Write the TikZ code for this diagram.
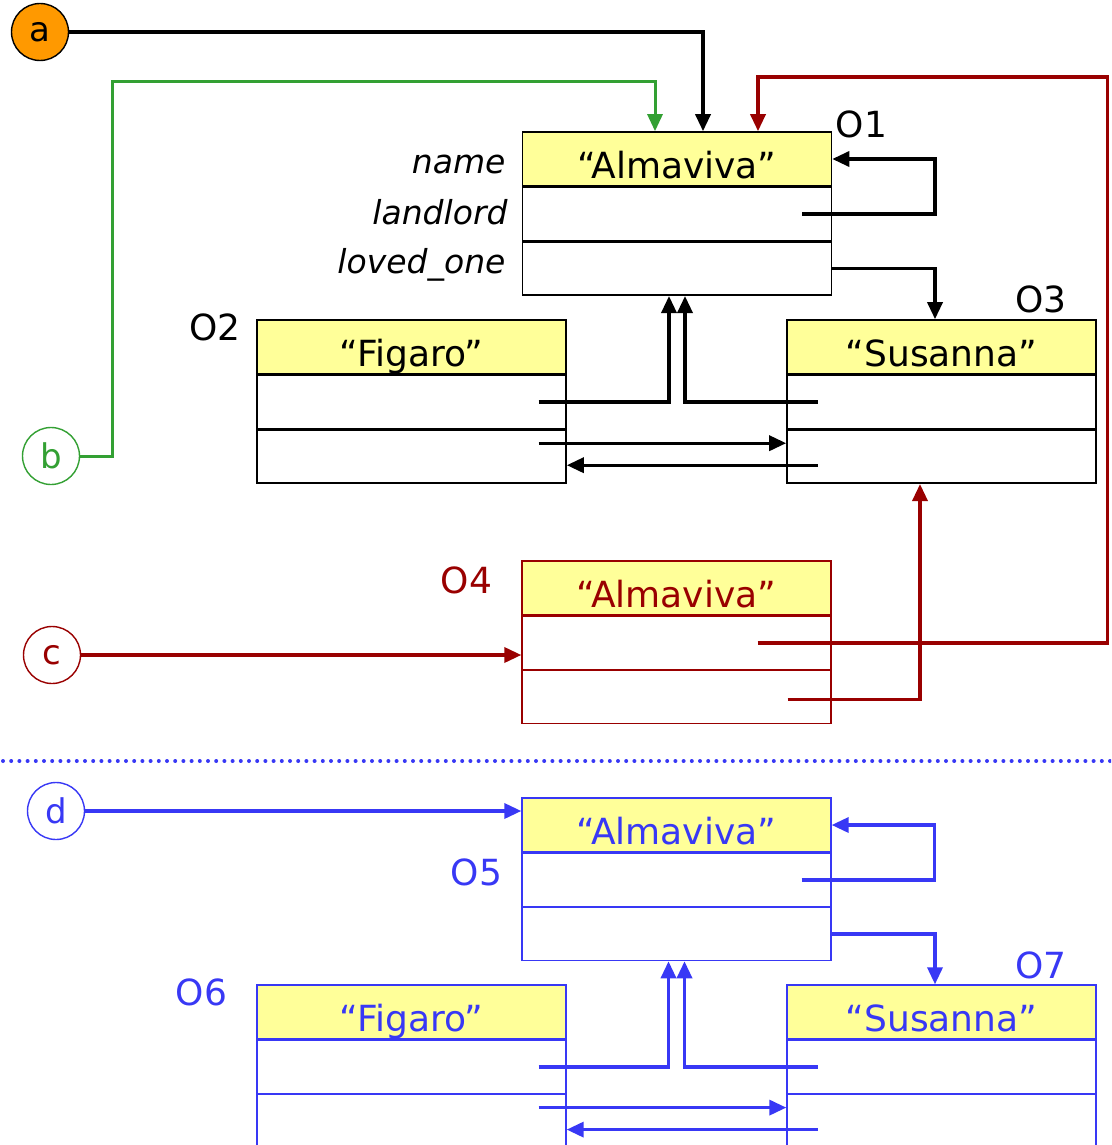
\documentclass[tikz,border=0pt]{standalone}
\usepackage{fontspec}
\setmainfont{DejaVu Sans}
\usetikzlibrary{arrows.meta,positioning,calc}
\definecolor{objyellow}{HTML}{FFFF99}
\definecolor{objred}{HTML}{990000}
\definecolor{objblue}{HTML}{3838F5}
\definecolor{objgreen}{HTML}{33A033}
\definecolor{objorange}{HTML}{FF9900}

\begin{document}
\begin{tikzpicture}[x=1pt,y=-1pt]
                    \tikzstyle{every node}+=[inner sep=0pt]
                    \tikzstyle{hdr}=[draw,line width=1.6pt,fill=objyellow,minimum width=309pt,minimum height=54pt,text height=38pt,text depth=0pt,font=\fontsize{36}{42}\selectfont]
                    \tikzstyle{cell}=[draw,line width=1.6pt,minimum width=309pt,minimum height=53pt]
                    \tikzstyle{var}=[circle,draw,line width=1.4pt,fill=white,minimum size=57pt,font=\fontsize{34}{40}\selectfont]
                    \tikzstyle{field}=[anchor=east,font=\fontsize{33}{38}\selectfont\itshape]
                    \tikzstyle{oid}=[font=\fontsize{36}{42}\selectfont]
                    \tikzstyle{ref}=[line width=3.4pt,-{Triangle[length=17pt,width=15pt]}]
                    \clip (0,0) rectangle (1111,1145);
                    % upper part
                    \node [hdr] (o1h) at (677,159) {“Almaviva”};
                    \node [cell,below=0pt of o1h] (o1a) {};
                    \node [cell,below=0pt of o1a] (o1b) {};
                    \node [hdr] (o2h) at (411.5,347) {“Figaro”};
                    \node [cell,below=0pt of o2h] (o2a) {};
                    \node [cell,below=0pt of o2a] (o2b) {};
                    \node [hdr] (o3h) at (941.5,347) {“Susanna”};
                    \node [cell,below=0pt of o3h] (o3a) {};
                    \node [cell,below=0pt of o3a] (o3b) {};
                    \node [hdr,draw=objred,text=objred,line width=1.3pt] (o4h) at (676.5,588) {“Almaviva”};
                    \node [cell,draw=objred,line width=1.3pt,below=0pt of o4h] (o4a) {};
                    \node [cell,draw=objred,line width=1.3pt,below=0pt of o4a] (o4b) {};
                    \node [field] (fname) at ($(o1h.west)+(-16,5)$) {name};
                    \node [field] (flandlord) at ($(o1a.west)+(-14,-2)$) {landlord};
                    \node [field] (floved) at ($(o1b.west)+(-16,-4)$) {loved\_one};
                    \node [oid] (l1) at ($(o1h.north east)+(29,-7)$) {O1};
                    \node [oid] (l2) at ($(o2h.north west)+(-41,8)$) {O2};
                    \node [oid] (l3) at ($(o3h.north east)+(-56,-20)$) {O3};
                    \node [oid,text=objred] (l4) at ($(o4h.north west)+(-55,20)$) {O4};
                    \node [var,fill=objorange] (a) at (40,32) {a};
                    \node [var,draw=objgreen,text=objgreen] (b) at (51,456) {b};
                    \node [var,draw=objred,text=objred] (c) at (52,655) {c};
                    \coordinate (a1) at ($(o1h.north)+(26,0)$);
                    \coordinate (b1) at ($(o1h.north)+(-22,0)$);
                    \coordinate (r1) at ($(o1h.north)+(81,0)$);
                    \coordinate (o1p) at ($(o1a.center)+(125,0)$);
                    \coordinate (o2p) at ($(o2a.center)+(127,0)$);
                    \coordinate (o3p) at ($(o3a.center)+(-124,0)$);
                    \coordinate (o2q) at ($(o2b.center)+(127,-13.5)$);
                    \coordinate (o3q) at ($(o3b.center)+(-124,8.5)$);
                    \coordinate (o4p) at ($(o4a.center)+(81,0)$);
                    \coordinate (o4q) at ($(o4b.center)+(111,2.5)$);
                    \draw [ref] (a.east) -- (a.east -| a1) -- (a1);
                    \draw [ref,objgreen,line width=3pt] (b.east) -- ++(32,0) |- ($(b1)+(0,-50)$) -- (b1);
                    \draw [ref] (o1p) -- ++(133,0) |- (o1h.east);
                    \draw [ref] (o1b.east) -| ($(o3h.north)+(-6.5,0)$);
                    \draw [ref] (o2p) -| ($(o1b.south)+(-8,0)$);
                    \draw [ref] (o3p) -| ($(o1b.south)+(8,0)$);
                    \draw [ref] (o2q) -- (o2q -| o3b.west);
                    \draw [ref] (o3q) -- (o3q -| o2b.east);
                    \draw [ref,objred] (c.east) -- (c.east -| o4a.west);
                    \draw [ref,objred] (o4p) -- ++(350,0) |- ($(r1)+(0,-54)$) -- (r1);
                    \draw [ref,objred] (o4q) -| ($(o3b.south)+(-21.5,0)$);
                    % separator
                    \draw [objblue,line width=4pt,line cap=round,dash pattern=on 0pt off 8.2pt] (3,761) -- (1111,761);
                    % lower part
                    \node [hdr,draw=objblue,text=objblue,line width=1.3pt] (o5h) at (676.5,825) {“Almaviva”};
                    \node [cell,draw=objblue,line width=1.3pt,below=0pt of o5h] (o5a) {};
                    \node [cell,draw=objblue,line width=1.3pt,below=0pt of o5a] (o5b) {};
                    \node [hdr,draw=objblue,text=objblue,line width=1.3pt] (o6h) at (411.5,1012) {“Figaro”};
                    \node [cell,draw=objblue,line width=1.3pt,below=0pt of o6h] (o6a) {};
                    \node [cell,draw=objblue,line width=1.3pt,below=0pt of o6a] (o6b) {};
                    \node [hdr,draw=objblue,text=objblue,line width=1.3pt] (o7h) at (941.5,1012) {“Susanna”};
                    \node [cell,draw=objblue,line width=1.3pt,below=0pt of o7h] (o7a) {};
                    \node [cell,draw=objblue,line width=1.3pt,below=0pt of o7a] (o7b) {};
                    \node [oid,text=objblue] (l5) at ($(o5a.west)+(-45,-7)$) {O5};
                    \node [oid,text=objblue] (l6) at ($(o6h.north west)+(-55,8)$) {O6};
                    \node [oid,text=objblue] (l7) at ($(o7h.north east)+(-56,-19)$) {O7};
                    \node [var,draw=objblue,text=objblue] (d) at (56,811) {d};
                    \coordinate (o5p) at ($(o5a.center)+(125,0)$);
                    \coordinate (o6p) at ($(o6a.center)+(127,0)$);
                    \coordinate (o7p) at ($(o7a.center)+(-124,0)$);
                    \coordinate (o6q) at ($(o6b.center)+(127,-13.5)$);
                    \coordinate (o7q) at ($(o7b.center)+(-124,8.5)$);
                    \draw [ref,objblue] (d.east) -- (d.east -| o5h.west);
                    \draw [ref,objblue] (o5p) -- ++(133,0) |- (o5h.east);
                    \draw [ref,objblue] (o5b.east) -| ($(o7h.north)+(-6.5,0)$);
                    \draw [ref,objblue] (o6p) -| ($(o5b.south)+(-8,0)$);
                    \draw [ref,objblue] (o7p) -| ($(o5b.south)+(8,0)$);
                    \draw [ref,objblue] (o6q) -- (o6q -| o7b.west);
                    \draw [ref,objblue] (o7q) -- (o7q -| o6b.east);
                \end{tikzpicture}
\end{document}
